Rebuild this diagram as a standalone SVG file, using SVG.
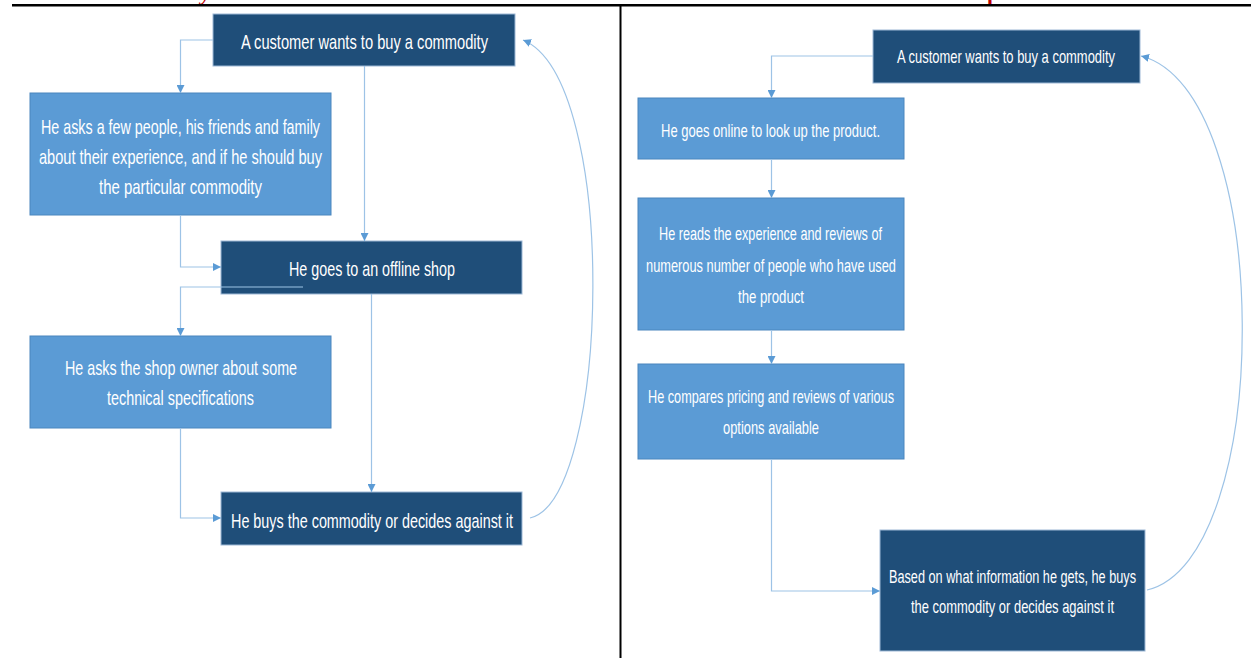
<svg xmlns="http://www.w3.org/2000/svg" width="1251" height="658" viewBox="0 0 1251 658">
<style>
.dark{fill:#1F4E79;stroke:#9DB8D6;stroke-width:1}
.light{fill:#5B9BD5;stroke:#4A86BE;stroke-width:1}
.t{font-family:"Liberation Sans",Arial,sans-serif;fill:#FFFFFF}
.tl{font-size:21px}
.tr{font-size:19px}
.c{fill:none;stroke:#9DC3E6;stroke-width:1.2}
.red{font-family:"Liberation Serif","Times New Roman",serif;font-weight:bold;fill:#C00000;font-size:22px}
</style>
<defs>
<marker id="ah" markerUnits="userSpaceOnUse" markerWidth="8" markerHeight="8" viewBox="0 0 10 10" refX="10" refY="5" orient="auto">
<path d="M0,0 L10,5 L0,10 z" fill="#5B9BD5"/>
</marker>
</defs>
<rect x="0" y="0" width="1251" height="658" fill="#FFFFFF"/>
<g id="frame">
<text class="red" x="201" y="0" font-style="italic">y</text>
<text class="red" x="987" y="0">p</text>
<rect x="12" y="4" width="1239" height="2.5" fill="#000000"/>
<rect x="619.5" y="6" width="2" height="652" fill="#000000"/>
</g>
<g id="l1">
<rect class="dark" x="213" y="14" width="302" height="52"/>
<text class="t tl" x="241" y="49" textLength="247" lengthAdjust="spacingAndGlyphs">A customer wants to buy a commodity</text>
</g>
<g id="l2">
<rect class="light" x="30" y="93" width="301" height="122"/>
<text class="t tl" x="41" y="134" textLength="279" lengthAdjust="spacingAndGlyphs">He asks a few people, his friends and family</text>
<text class="t tl" x="39" y="164" textLength="283" lengthAdjust="spacingAndGlyphs">about their experience, and if he should buy</text>
<text class="t tl" x="99" y="194" textLength="163" lengthAdjust="spacingAndGlyphs">the particular commodity</text>
</g>
<g id="l3">
<rect class="dark" x="221" y="241" width="301" height="53"/>
<text class="t tl" x="289" y="276" textLength="166" lengthAdjust="spacingAndGlyphs">He goes to an offline shop</text>
</g>
<g id="l4">
<rect class="light" x="30" y="336" width="301" height="92"/>
<text class="t tl" x="65" y="375" textLength="232" lengthAdjust="spacingAndGlyphs">He asks the shop owner about some</text>
<text class="t tl" x="107" y="405" textLength="147" lengthAdjust="spacingAndGlyphs">technical specifications</text>
</g>
<g id="l5">
<rect class="dark" x="221" y="492" width="301" height="53"/>
<text class="t tl" x="231" y="528" textLength="282" lengthAdjust="spacingAndGlyphs">He buys the commodity or decides against it</text>
</g>
<g id="r1">
<rect class="dark" x="873" y="30" width="267" height="53"/>
<text class="t tr" x="897" y="63" textLength="218" lengthAdjust="spacingAndGlyphs">A customer wants to buy a commodity</text>
</g>
<g id="r2">
<rect class="light" x="638" y="98" width="266" height="61"/>
<text class="t tr" x="661" y="137" textLength="219" lengthAdjust="spacingAndGlyphs">He goes online to look up the product.</text>
</g>
<g id="r3">
<rect class="light" x="638" y="198" width="266" height="132"/>
<text class="t tr" x="659" y="240" textLength="223" lengthAdjust="spacingAndGlyphs">He reads the experience and reviews of</text>
<text class="t tr" x="646" y="272" textLength="250" lengthAdjust="spacingAndGlyphs">numerous number of people who have used</text>
<text class="t tr" x="738" y="303" textLength="66" lengthAdjust="spacingAndGlyphs">the product</text>
</g>
<g id="r4">
<rect class="light" x="638" y="364" width="266" height="95"/>
<text class="t tr" x="648" y="403" textLength="246" lengthAdjust="spacingAndGlyphs">He compares pricing and reviews of various</text>
<text class="t tr" x="723" y="434" textLength="96" lengthAdjust="spacingAndGlyphs">options available</text>
</g>
<g id="r5">
<rect class="dark" x="880" y="530" width="265" height="121"/>
<text class="t" font-size="17.5" x="889" y="583" textLength="247" lengthAdjust="spacingAndGlyphs">Based on what information he gets, he buys</text>
<text class="t tr" x="911" y="613" textLength="203" lengthAdjust="spacingAndGlyphs">the commodity or decides against it</text>
</g>
<g id="connectors">
<path class="c" d="M213,40 H180.5 V93" marker-end="url(#ah)"/>
<path class="c" d="M364.5,66 V241" marker-end="url(#ah)"/>
<path class="c" d="M180.5,215 V267 H221" marker-end="url(#ah)"/>
<path class="c" d="M303,287 H180.5 V336" marker-end="url(#ah)"/>
<path class="c" d="M371.5,294 V492" marker-end="url(#ah)"/>
<path class="c" d="M180.5,428 V518 H221" marker-end="url(#ah)"/>
<path class="c" d="M530,518 C610,500 620,80 523,40" marker-end="url(#ah)"/>
<path class="c" d="M873,56 H771.5 V98" marker-end="url(#ah)"/>
<path class="c" d="M771.5,159 V198" marker-end="url(#ah)"/>
<path class="c" d="M771.5,330 V364" marker-end="url(#ah)"/>
<path class="c" d="M771.5,459 V591 H880" marker-end="url(#ah)"/>
<path class="c" d="M1147,590 C1275,560 1275,90 1141,56" marker-end="url(#ah)"/>
</g>
</svg>
